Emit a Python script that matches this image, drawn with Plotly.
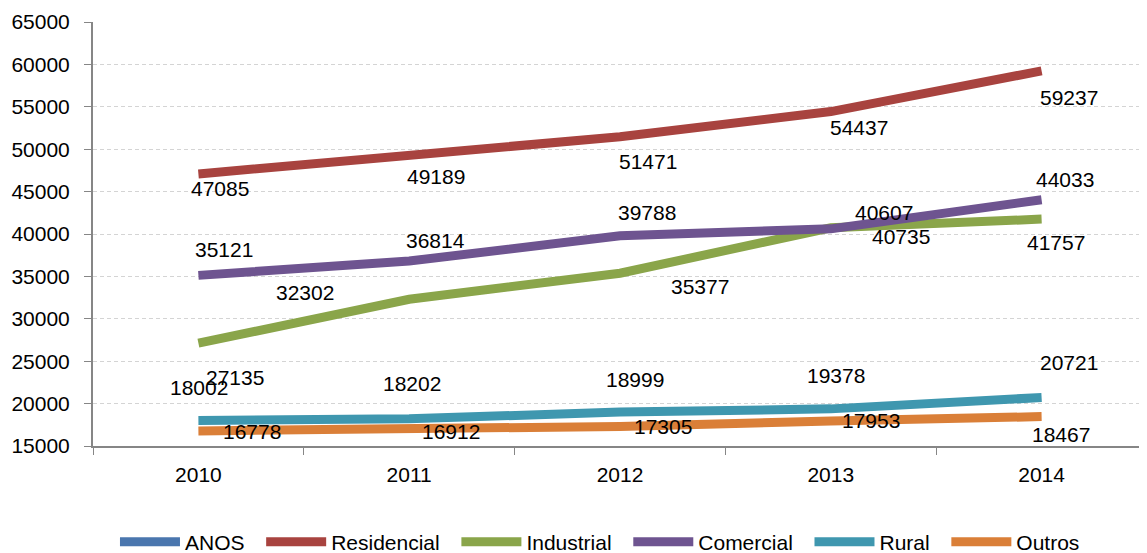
import plotly.graph_objects as go

years = ["2010", "2011", "2012", "2013", "2014"]
anos = [2010, 2011, 2012, 2013, 2014]
residencial = [47085, 49189, 51471, 54437, 59237]
industrial = [27135, 32302, 35377, 40735, 41757]
comercial = [35121, 36814, 39788, 40607, 44033]
rural = [18002, 18202, 18999, 19378, 20721]
outros = [16778, 16912, 17305, 17953, 18467]

series = [
    ("ANOS", anos, "#4A76AE"),
    ("Residencial", residencial, "#A8433F"),
    ("Industrial", industrial, "#8AA54A"),
    ("Comercial", comercial, "#6E5490"),
    ("Rural", rural, "#3F97AF"),
    ("Outros", outros, "#DA7F38"),
]

# label pixel offsets (dx right, dy down) per series, per point
label_offsets = {
    "Residencial": [(22, 15), (27, 20), (28, 25), (28, 16), (27, 27)],
    "Industrial": [(37, 34), (-104, -7), (80, 13), (70, 9), (14, 23)],
    "Comercial": [(26, -26), (26, -21), (27, -23), (53, -16), (23, -20)],
    "Rural": [(1, -33), (3, -35), (15, -33), (5, -33), (27, -35)],
    "Outros": [(54, 1), (42, 2), (43, 0), (40, 0), (19, 18)],
}

FONT = "Liberation Sans"
PAD = "\u00a0\u00a0"  # extra spacing between legend entries

fig = go.Figure()
for k, (name, vals, color) in enumerate(series):
    fig.add_trace(go.Scatter(
        x=years, y=vals, name=name + (PAD if k < len(series) - 1 else ""),
        mode="lines", line=dict(color=color, width=9),
    ))

annotations = []
for name, vals, color in series:
    if name not in label_offsets:
        continue
    for i, (v, (dx, dy)) in enumerate(zip(vals, label_offsets[name])):
        annotations.append(dict(
            x=i, y=v, xref="x", yref="y", text=str(v), showarrow=False,
            xshift=dx, yshift=-dy,
            font=dict(family=FONT, size=21, color="#000000"),
        ))

# page has an 8px body margin, so the figure is sized to fit the window
fig.update_layout(
    width=1139, height=545,
    margin=dict(l=85, r=0, t=14, b=107, autoexpand=False),
    paper_bgcolor="white", plot_bgcolor="white",
    annotations=annotations,
    showlegend=True,
    legend=dict(
        orientation="h", x=0.481, xanchor="center",
        yref="container", y=0.02, yanchor="middle",
        font=dict(family=FONT, size=21, color="#000000"),
        itemwidth=60, tracegroupgap=0,
    ),
    font=dict(family=FONT, size=21, color="#000000"),
)

fig.update_xaxes(
    type="category", range=[-0.5, 4.5], tickson="boundaries", ticks="outside", ticklen=7,
    tickcolor="#868686", showline=True, linecolor="#868686", linewidth=2,
    showgrid=False, tickfont=dict(family=FONT, size=21), ticklabelstandoff=9,
    tickangle=0,
)
fig.update_yaxes(
    range=[15000, 65000], dtick=5000, tickformat="d", ticks="outside", ticklen=7,
    tickcolor="#868686", showline=True, linecolor="#868686", linewidth=2,
    showgrid=True, gridcolor="#D4D4D4", griddash="4px,3px", gridwidth=1,
    zeroline=False, tickfont=dict(family=FONT, size=21), ticklabelstandoff=10,
)

fig.write_html("out.html")
